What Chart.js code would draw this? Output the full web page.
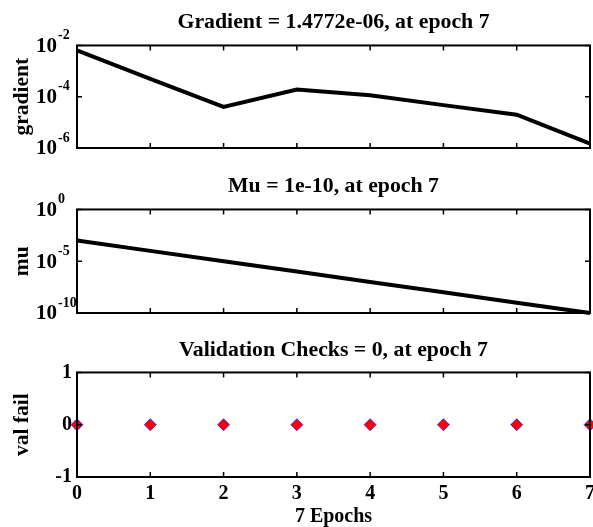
<!DOCTYPE html>
<html>
<head>
<meta charset="utf-8">
<script src="https://cdn.jsdelivr.net/npm/chart.js@4.4.1/dist/chart.umd.min.js"></script>
<style>
  html, body { margin: 0; padding: 0; background: #fff; }
  #wrap { position: relative; width: 593px; height: 527px; overflow: hidden; }
  canvas { position: absolute; left: 0; }
</style>
</head>
<body>
<div id="wrap">
  <canvas id="gradChart" width="593" height="155" style="top:0px"></canvas>
  <canvas id="muChart" width="593" height="160" style="top:160px"></canvas>
  <!-- um pouco mais largo: os losangos pedem margem, o excesso é cortado pelo wrap -->
  <canvas id="valChart" width="597" height="197" style="top:330px"></canvas>
</div>
<script>
const FONT = "'Liberation Serif', 'Times New Roman', serif";

// dados
const epochs = [0, 1, 2, 3, 4, 5, 6, 7];
const gradient = [6.4e-3, 5.0e-4, 4.0e-5, 1.9e-4, 1.15e-4, 4.7e-5, 2.0e-5, 1.4772e-6];
const mu = [1e-3, 1e-4, 1e-5, 1e-6, 1e-7, 1e-8, 1e-9, 1e-10];
const valFail = [0, 0, 0, 0, 0, 0, 0, 0];

const gradTicks = [1e-6, 1e-4, 1e-2];
const muTicks = [1e-10, 1e-5, 1];
const valTicks = [-1, 0, 1];

// caixa fechada com ticks para dentro (estilo matlab) + rótulos 10^n
const boxPlugin = {
  id: "matlabBox",
  afterDraw(chart, args, opts) {
    const { ctx, chartArea: a, scales } = chart;
    const len = 5;
    ctx.save();
    ctx.strokeStyle = "#000";
    ctx.lineWidth = 2;
    ctx.strokeRect(a.left, a.top, a.right - a.left, a.bottom - a.top);
    ctx.lineWidth = 1.5;
    ctx.beginPath();
    scales.x.ticks.forEach((t, i) => {
      const px = scales.x.getPixelForTick(i);
      ctx.moveTo(px, a.top);
      ctx.lineTo(px, a.top + len);
      ctx.moveTo(px, a.bottom);
      ctx.lineTo(px, a.bottom - len);
    });
    scales.y.ticks.forEach((t) => {
      const py = scales.y.getPixelForValue(t.value);
      ctx.moveTo(a.left, py);
      ctx.lineTo(a.left + len, py);
      ctx.moveTo(a.right, py);
      ctx.lineTo(a.right - len, py);
    });
    ctx.stroke();

    if (opts && opts.powers) {
      ctx.fillStyle = "#000";
      ctx.textBaseline = "middle";
      scales.y.ticks.forEach((t) => {
        const py = scales.y.getPixelForValue(t.value);
        const exp = Math.round(Math.log10(t.value));
        ctx.font = "bold 21px " + FONT;
        ctx.textAlign = "right";
        ctx.fillText("10", 57, py + 1);
        ctx.font = "bold 14px " + FONT;
        ctx.textAlign = "left";
        ctx.fillText(String(exp), 58, py - 10);
      });
    }
    ctx.restore();
  },
};

function titleOpts(text, top, bottom) {
  return {
    display: true,
    text: text,
    color: "#000",
    fullSize: false,
    font: { family: FONT, size: 21.8, weight: "bold" },
    padding: { top: top, bottom: bottom },
  };
}

function axisTitle(text, padTop) {
  return {
    display: true,
    text: text,
    color: "#000",
    font: { family: FONT, size: 21.5, weight: "bold" },
    padding: { top: padTop, bottom: 0 },
  };
}

function fixX(h) {
  return (s) => {
    s.height = h;
    s.paddingLeft = 0;
    s.paddingRight = 0;
  };
}

function fixY(s) {
  s.width = 77;
  s.paddingTop = 0;
  s.paddingBottom = 0;
}

function hiddenX(h) {
  return {
    type: "category",
    offset: false,
    grid: { display: false, drawTicks: false },
    border: { display: false },
    ticks: { display: false },
    afterFit: fixX(h),
  };
}

const base = {
  responsive: false,
  animation: false,
};

// Gráfico do gradiente
const gradChart = new Chart(document.getElementById("gradChart"), {
  type: "line",
  data: {
    labels: epochs,
    datasets: [
      {
        data: gradient,
        borderColor: "#000",
        borderWidth: 4,
        pointRadius: 0,
        tension: 0,
        clip: false,
      },
    ],
  },
  options: {
    ...base,
    layout: { padding: { left: 0, right: 3, top: 0, bottom: 0 } },
    plugins: {
      legend: { display: false },
      tooltip: { enabled: false },
      title: titleOpts("Gradient = 1.4772e-06, at epoch 7", 9, 10.3),
      matlabBox: { powers: true },
    },
    scales: {
      x: hiddenX(7),
      y: {
        type: "logarithmic",
        min: 1e-6,
        max: 1e-2,
        grid: { display: false, drawTicks: false },
        border: { display: false },
        ticks: { display: false },
        afterBuildTicks: (s) => {
          s.ticks = gradTicks.map((v) => ({ value: v }));
        },
        title: axisTitle("gradient", 10),
        afterFit: fixY,
      },
    },
  },
  plugins: [boxPlugin],
});

// Gráfico do mu
const muChart = new Chart(document.getElementById("muChart"), {
  type: "line",
  data: {
    labels: epochs,
    datasets: [
      {
        data: mu,
        borderColor: "#000",
        borderWidth: 4,
        pointRadius: 0,
        tension: 0,
        clip: false,
      },
    ],
  },
  options: {
    ...base,
    layout: { padding: { left: 0, right: 3, top: 0, bottom: 0 } },
    plugins: {
      legend: { display: false },
      tooltip: { enabled: false },
      title: titleOpts("Mu = 1e-10, at epoch 7", 13, 10.3),
      matlabBox: { powers: true },
    },
    scales: {
      x: hiddenX(7),
      y: {
        type: "logarithmic",
        min: 1e-10,
        max: 1,
        grid: { display: false, drawTicks: false },
        border: { display: false },
        ticks: { display: false },
        afterBuildTicks: (s) => {
          s.ticks = muTicks.map((v) => ({ value: v }));
        },
        title: axisTitle("mu", 10),
        afterFit: fixY,
      },
    },
  },
  plugins: [boxPlugin],
});

// Gráfico das validações
const valChart = new Chart(document.getElementById("valChart"), {
  type: "line",
  data: {
    labels: epochs,
    datasets: [
      {
        data: valFail,
        showLine: false,
        pointStyle: "rectRot",
        pointRadius: 6,
        backgroundColor: "#ff0000",
        borderColor: "#2020ff",
        borderWidth: 0.8,
        clip: false,
      },
    ],
  },
  options: {
    ...base,
    layout: { padding: { left: 0, right: 7, top: 0, bottom: 0 } },
    plugins: {
      legend: { display: false },
      tooltip: { enabled: false },
      title: titleOpts("Validation Checks = 0, at epoch 7", 7, 9.3),
      matlabBox: { powers: false },
    },
    scales: {
      x: {
        type: "category",
        offset: false,
        grid: { display: false, drawTicks: false },
        border: { display: false },
        ticks: {
          color: "#000",
          font: { family: FONT, size: 20, weight: "bold" },
          padding: 5,
          maxRotation: 0,
          autoSkip: false,
        },
        title: {
          display: true,
          text: "7 Epochs",
          color: "#000",
          font: { family: FONT, size: 20, weight: "bold" },
          padding: { top: 0, bottom: -2 },
        },
        afterFit: fixX(50),
      },
      y: {
        type: "linear",
        min: -1,
        max: 1,
        grid: { display: false, drawTicks: false },
        border: { display: false },
        ticks: {
          color: "#000",
          font: { family: FONT, size: 20, weight: "bold" },
          padding: 5,
        },
        afterBuildTicks: (s) => {
          s.ticks = valTicks.map((v) => ({ value: v }));
        },
        title: axisTitle("val fail", 10),
        afterFit: fixY,
      },
    },
  },
  plugins: [boxPlugin],
});
</script>
</body>
</html>
